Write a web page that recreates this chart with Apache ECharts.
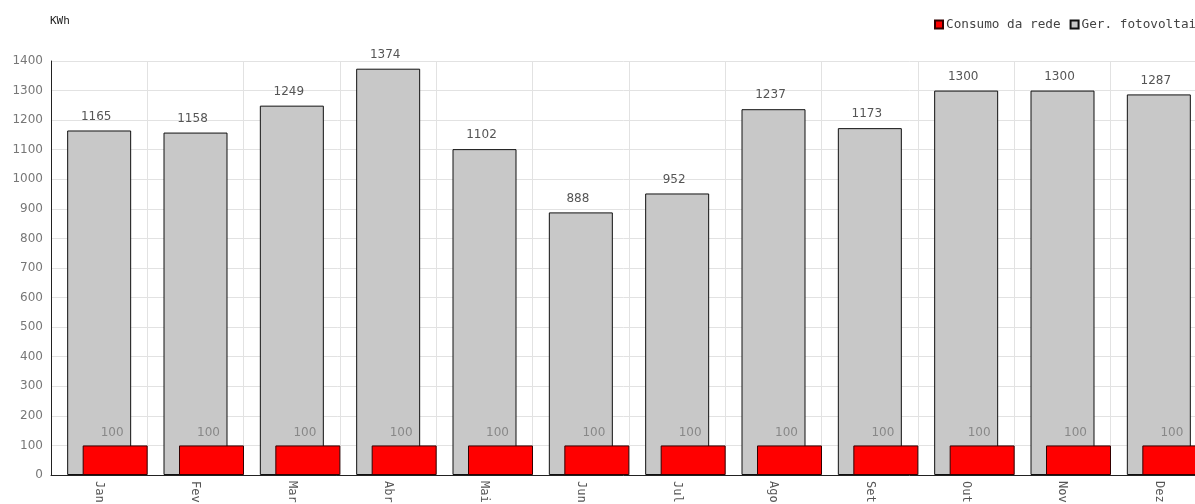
<!DOCTYPE html>
<html>
<head>
<meta charset="utf-8">
<script src="https://cdn.jsdelivr.net/npm/echarts@6/dist/echarts.min.js"></script>
<style>
  html, body { margin: 0; padding: 0; background: #fff; }
  #chart { width: 1195px; height: 504px; }
</style>
</head>
<body>
<div id="chart"></div>
<script>
// Monthly energy balance (kWh)
const months = ['Jan', 'Fev', 'Mar', 'Abr', 'Mai', 'Jun', 'Jul', 'Ago', 'Set', 'Out', 'Nov', 'Dez'];
const geracaoFV = [1165, 1158, 1249, 1374, 1102, 888, 952, 1237, 1173, 1300, 1300, 1287];
const consumoRede = [100, 100, 100, 100, 100, 100, 100, 100, 100, 100, 100, 100];
const yTicks = { min: 0, max: 1400, interval: 100 };

const chart = echarts.init(document.getElementById('chart'), null, { renderer: 'canvas' });

const numFont = 'DejaVu Sans';
const monoFont = 'DejaVu Sans Mono';

// Two identical grids; the second is shifted right so the grid-consumption
// bars overlap the PV bars towards the right edge of each month.
const gridBase = { top: 61, bottom: 29, width: 1156, containLabel: false, outerBoundsMode: 'none' };

chart.setOption({
  animation: false,
  backgroundColor: '#ffffff',
  title: {
    text: 'KWh',
    left: 45,
    top: 11,
    textStyle: { fontFamily: monoFont, fontSize: 11, fontWeight: 'normal', color: '#222' }
  },
  legend: {
    left: 929,
    top: 13,
    width: 600,
    orient: 'horizontal',
    icon: 'rect',
    itemWidth: 8,
    itemHeight: 8,
    itemGap: 9,
    data: ['Consumo da rede', 'Ger. fotovoltaica'],
    textStyle: { fontFamily: monoFont, fontSize: 12.7, color: '#444', padding: [0, 0, 0, -2] }
  },
  grid: [
    Object.assign({ left: 51 }, gridBase),
    Object.assign({ left: 67 }, gridBase)
  ],
  xAxis: [
    {
      type: 'category',
      gridIndex: 0,
      data: months,
      boundaryGap: true,
      axisLine: { show: true, lineStyle: { color: '#222', width: 1 } },
      axisTick: { show: false },
      splitLine: { show: true, interval: 0, lineStyle: { color: '#e2e2e2', width: 1 } },
      axisLabel: {
        interval: 0,
        rotate: -90,
        margin: 6,
        fontFamily: monoFont,
        fontSize: 12,
        color: '#555'
      }
    },
    {
      type: 'category',
      gridIndex: 1,
      data: months,
      boundaryGap: true,
      show: false
    }
  ],
  yAxis: [
    {
      type: 'value',
      gridIndex: 0,
      min: yTicks.min,
      max: yTicks.max,
      interval: yTicks.interval,
      axisLine: { show: true, lineStyle: { color: '#222', width: 1 } },
      axisTick: { show: false },
      splitLine: { show: true, lineStyle: { color: '#e2e2e2', width: 1 } },
      axisLabel: {
        margin: 8,
        fontFamily: numFont,
        fontSize: 12,
        color: '#777',
        formatter: (v) => String(v)
      }
    },
    {
      type: 'value',
      gridIndex: 1,
      min: yTicks.min,
      max: yTicks.max,
      interval: yTicks.interval,
      show: false,
      splitLine: { show: false }
    }
  ],
  series: [
    {
      name: 'Ger. fotovoltaica',
      type: 'bar',
      xAxisIndex: 0,
      yAxisIndex: 0,
      data: geracaoFV,
      barWidth: 64,
      z: 2,
      itemStyle: { color: '#c8c8c8', borderColor: '#111', borderWidth: 1 },
      label: {
        show: true,
        position: 'top',
        distance: 8,
        offset: [-3, 0],
        fontFamily: numFont,
        fontSize: 12,
        color: '#555'
      }
    },
    {
      name: 'Consumo da rede',
      type: 'bar',
      xAxisIndex: 1,
      yAxisIndex: 1,
      data: consumoRede,
      barWidth: 65,
      z: 3,
      itemStyle: { color: '#ff0000', borderColor: '#330000', borderWidth: 1 },
      label: {
        show: true,
        position: 'top',
        distance: 7,
        offset: [-3, 0],
        fontFamily: numFont,
        fontSize: 12,
        color: '#888'
      }
    }
  ]
});
</script>
</body>
</html>
